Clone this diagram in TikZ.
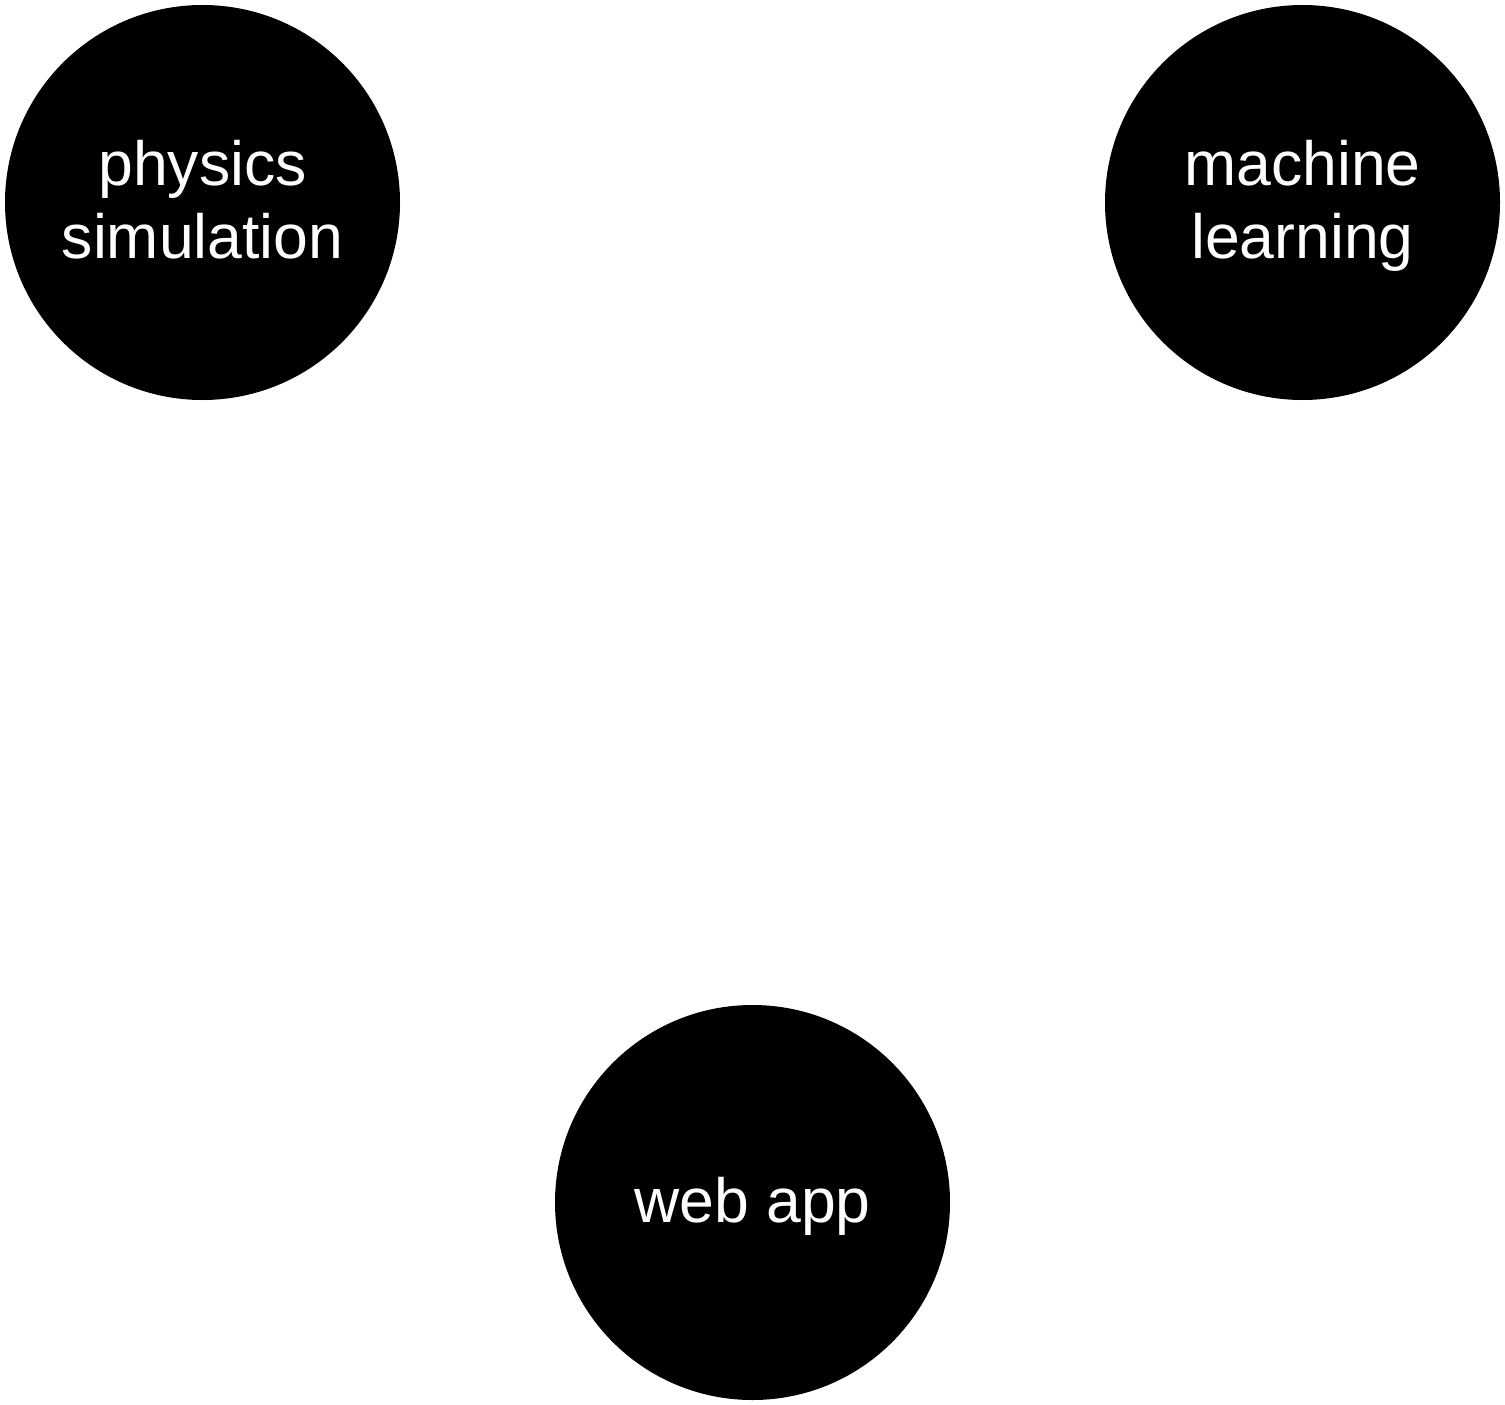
\documentclass[tikz,border=0pt]{standalone}
\usepackage{fontspec}
\setmainfont{Liberation Sans}
\begin{document}
\begin{tikzpicture}[x=1pt,y=-1pt,
  topic/.style={circle, fill=black, draw=none, minimum size=395pt, inner sep=0pt},
  topictext/.style={text=white, anchor=base, inner sep=0pt,
    font=\fontsize{62.5}{73}\selectfont}]
\useasboundingbox (0,0) rectangle (1505,1405);
\node[topic] (phys) at (202.5,202.5) {};
\node[topic] (ml) at (1302.5,202.5) {};
\node[topic] (web) at (752.5,1202.5) {};
\node[topictext] (phys1) at ([yshift=17.5pt]phys.center) {physics};
\node[topictext] (phys2) at ([yshift=-55.5pt]phys.center) {simulation};
\node[topictext] (ml1) at ([yshift=17.5pt]ml.center) {machine};
\node[topictext] (ml2) at ([yshift=-55.5pt]ml.center) {learning};
\node[topictext] (webt) at ([yshift=-19.5pt]web.center) {web app};
\end{tikzpicture}
\end{document}
